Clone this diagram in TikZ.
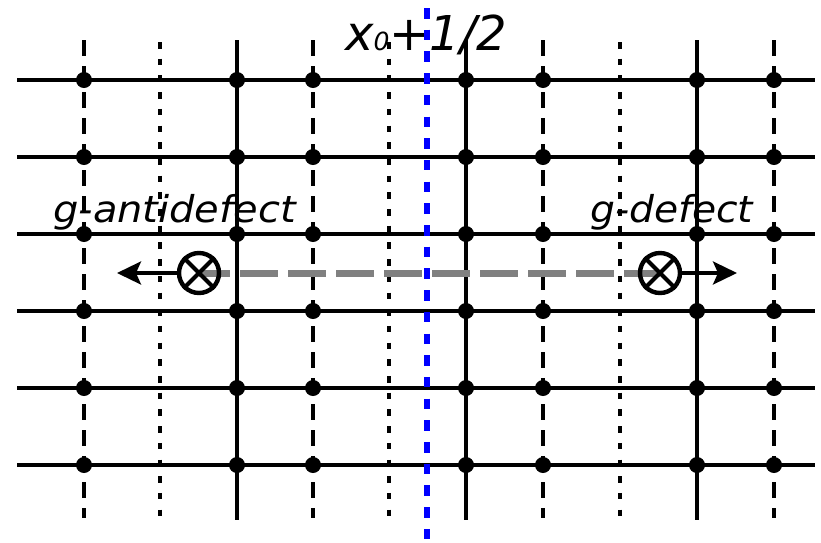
\documentclass[tikz,border=0pt]{standalone}
\usepackage{fontspec}
\setmainfont{DejaVu Sans}
\usepackage{graphicx}
\usetikzlibrary{arrows.meta}
\begin{document}
\begin{tikzpicture}[x=1pt,y=-1pt,
  hline/.style={line width=3.2pt},
  solidv/.style={line width=3.2pt},
  dashv/.style={line width=3.2pt, dash pattern=on 16pt off 10pt},
  dotv/.style={line width=3.2pt, dash pattern=on 6.5pt off 10.2pt, dash phase=-2pt},
  bluev/.style={blue, line width=5.5pt, dash pattern=on 10.5pt off 11.2pt},
  site/.style={circle, fill=black, inner sep=0pt, minimum size=16pt},
  defect/.style={circle, draw=black, line width=4.4pt, minimum size=40pt, inner sep=0pt},
  lab/.style={font=\fontsize{37}{37}\selectfont\itshape, inner sep=0pt, anchor=base west},
  mover/.style={line width=3.4pt, -{Stealth[length=24pt,width=23pt,inset=5pt]}},
  trail/.style={gray, line width=7pt, dash pattern=on 38pt off 10pt, dash phase=7pt},
]
\useasboundingbox (0,0) rectangle (821,542);
% horizontal lines
\foreach \y in {80,157,234,311,388,465}
  \draw[hline] (17,\y) -- (815,\y);
% vertical lines
\foreach \x in {237,466,697}
  \draw[solidv] (\x,40) -- (\x,520);
\foreach \x in {84,313,543,774}
  \draw[dashv] (\x,40) -- (\x,518);
\foreach \x in {160,389,620}
  \draw[dotv] (\x,40) -- (\x,520);
% sites
\foreach \x in {84,237,313,466,543,697,774}
  \foreach \y in {80,157,234,311,388,465}
    \node[site] (s-\x-\y) at (\x,\y) {};
% labels
\node[lab] (la) at (53,222) {\scalebox{1.08}[1]{g-antidefect}};
\node[lab] (lb) at (590,222) {\scalebox{1.06}[1]{g-defect}};
% defects
\coordinate (cl) at (199,273);
\coordinate (cr) at (660,273);
\draw[trail] (cl) -- (cr);
\node[defect] (dl) at (cl) {};
\node[defect] (dr) at (cr) {};
\draw[line width=4.2pt] (dl.north east) -- (dl.south west) (dl.north west) -- (dl.south east);
\draw[line width=4.2pt] (dr.north east) -- (dr.south west) (dr.north west) -- (dr.south east);
\coordinate (tl) at (117,273);
\coordinate (tr) at (737,273);
\draw[mover] (dl.west) -- (tl);
\draw[mover] (dr.east) -- (tr);
% title
\node[font=\fontsize{48}{48}\selectfont\itshape, anchor=base west, inner sep=0pt] (title) at (345,50) {x{\fontsize{25}{25}\selectfont 0}+1/2};
% blue line
\coordinate (bt) at (427,8);
\coordinate (bb) at (427,542);
\draw[bluev] (bt) -- (bb);
\end{tikzpicture}
\end{document}
